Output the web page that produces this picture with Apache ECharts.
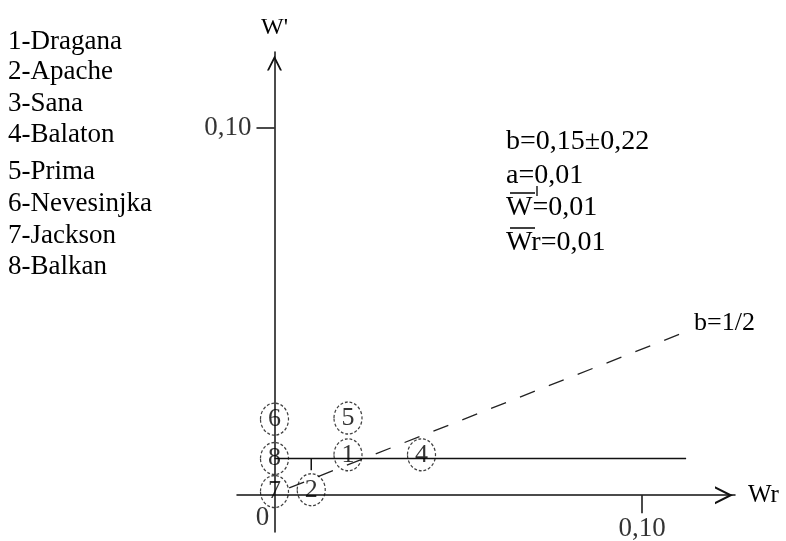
<!DOCTYPE html>
<html>
<head>
<meta charset="utf-8">
<script src="https://cdn.jsdelivr.net/npm/echarts@6/dist/echarts.min.js"></script>
<style>
  html, body { margin: 0; padding: 0; background: #fff; }
  #chart { width: 786px; height: 541px; }
</style>
</head>
<body>
<div id="chart"></div>
<script>
// Cultivar key shown top-left
const cultivarNames = ['1-Dragana', '2-Apache', '3-Sana', '4-Balaton', '5-Prima', '6-Nevesinjka', '7-Jackson', '8-Balkan'];

// Plotted cultivars (id shown inside each ring) with their Wr and W' values
const pointIds = ['1', '2', '4', '5', '6', '7', '8'];
const pointWr = [0.02, 0.01, 0.04, 0.02, 0.0, 0.0, 0.0];
const pointW = [0.011, 0.0015, 0.011, 0.021, 0.0207, 0.001, 0.01];

// Mean W' reference line and the mean Wr marker
const meanLineWr = [0.0, 0.112];
const meanLineW = [0.01, 0.01];
const meanMarkWr = [0.01, 0.01];
const meanMarkW = [0.01, 0.0068];

// b = 1/2 reference line
const refLineWr = [0.004, 0.112];
const refLineW = [0.002, 0.0445];

// Axis tick values and their labels
const tickValues = [0.1];
const tickLabels = ['0,10'];
const originLabel = '0';

// Regression summary
const statLines = ['b=0,15\u00B10,22', 'a=0,01', 'W=0,01', 'Wr=0,01'];

const FONT = 'Liberation Serif';
const INK = '#111';

const zip = (xs, ys) => xs.map((x, i) => [x, ys[i]]);

const chart = echarts.init(document.getElementById('chart'), null, { renderer: 'canvas' });

const chevron = 'path://M5,0 L10,10 L8.7,10 L5,2.6 L1.3,10 L0,10 Z';
const ellipse = 'path://M0,16 A14,16 0 1,1 28,16 A14,16 0 1,1 0,16 Z';

const textStyle = size => ({ fontFamily: FONT, fontSize: size, color: '#000' });

// Tick labels anchored to data positions on each axis
const tickLabelData = [];
tickValues.forEach((v, i) => {
  tickLabelData.push({
    value: [v, 0],
    label: { show: true, formatter: tickLabels[i], position: 'bottom', distance: 19, ...textStyle(27) }
  });
  tickLabelData.push({
    value: [0, v],
    label: { show: true, formatter: tickLabels[i], position: 'left', distance: 22, ...textStyle(27) }
  });
});
tickLabelData.push({
  value: [0, 0],
  label: { show: true, formatter: originLabel, position: 'bottom', distance: 8, offset: [-12, 0], ...textStyle(27) }
});

const option = {
  animation: false,
  backgroundColor: '#fff',
  grid: { left: 237, right: 51, top: 52, bottom: 9, containLabel: false, outerBoundsMode: 'none' },
  xAxis: {
    type: 'value',
    min: -0.0102,
    max: 0.1253,
    name: 'Wr',
    nameLocation: 'end',
    nameGap: 13,
    nameTextStyle: { ...textStyle(25), verticalAlign: 'middle' },
    axisLine: {
      onZero: true,
      lineStyle: { color: INK, width: 1.5 },
      symbol: ['none', chevron],
      symbolSize: [18, 22],
      symbolOffset: [0, -11]
    },
    axisTick: { show: true, customValues: tickValues, length: 18, lineStyle: { color: INK, width: 1.5 } },
    axisLabel: { show: false },
    splitLine: { show: false }
  },
  yAxis: {
    type: 'value',
    min: -0.0100,
    max: 0.1206,
    name: "W'",
    nameLocation: 'end',
    nameGap: 12,
    nameTextStyle: { ...textStyle(24), align: 'center' },
    axisLine: {
      onZero: true,
      lineStyle: { color: INK, width: 1.5 },
      symbol: ['none', chevron],
      symbolSize: [15, 22],
      symbolOffset: [0, -11]
    },
    axisTick: { show: true, customValues: tickValues, length: 18, lineStyle: { color: INK, width: 1.5 } },
    axisLabel: { show: false },
    splitLine: { show: false }
  },
  series: [
    {
      name: 'mean W',
      type: 'line',
      data: zip(meanLineWr, meanLineW),
      showSymbol: false,
      lineStyle: { color: INK, width: 1.5 },
      z: 2
    },
    {
      name: 'mean Wr',
      type: 'line',
      data: zip(meanMarkWr, meanMarkW),
      showSymbol: false,
      lineStyle: { color: INK, width: 1.5 },
      z: 2
    },
    {
      name: 'b=1/2',
      type: 'line',
      data: zip(refLineWr, refLineW),
      showSymbol: false,
      lineStyle: { color: '#222', width: 1.3, type: [16, 15] },
      endLabel: {
        show: true,
        formatter: 'b=1/2',
        ...textStyle(26),
        distance: 8,
        offset: [0, -9]
      },
      z: 2
    },
    {
      name: 'axis labels',
      type: 'scatter',
      data: tickLabelData,
      symbol: 'circle',
      symbolSize: 2,
      itemStyle: { color: 'rgba(0,0,0,0)' },
      silent: true,
      z: 1
    },
    {
      name: 'cultivars',
      type: 'scatter',
      data: pointIds.map((id, i) => ({ value: [pointWr[i], pointW[i]], name: id })),
      symbol: ellipse,
      symbolSize: [28, 32],
      symbolKeepAspect: false,
      itemStyle: { color: 'rgba(0,0,0,0)', borderColor: INK, borderWidth: 1.3, borderType: [3, 2] },
      label: {
        show: true,
        position: 'inside',
        formatter: p => p.name,
        ...textStyle(26)
      },
      z: 3
    }
  ]
};

chart.setOption(option);

// Text blocks and overlines placed around the plot
const legendY = [42, 72, 104, 135, 172, 204, 236, 267];
const statY = [142, 176, 208, 243];

const graphics = [];
cultivarNames.forEach((t, i) => {
  graphics.push({
    type: 'text', x: 8, y: legendY[i],
    style: { text: t, font: '27px "' + FONT + '"', fill: '#000', verticalAlign: 'middle', align: 'left' }
  });
});
statLines.forEach((t, i) => {
  graphics.push({
    type: 'text', x: 506, y: statY[i],
    style: { text: t, font: '28px "' + FONT + '"', fill: '#000', verticalAlign: 'middle', align: 'left' }
  });
});
// overlines over the two W symbols and the prime mark
graphics.push({ type: 'line', shape: { x1: 510, y1: 193, x2: 535, y2: 193 }, style: { stroke: '#000', lineWidth: 1.5 } });
graphics.push({ type: 'line', shape: { x1: 537, y1: 186, x2: 537, y2: 196 }, style: { stroke: '#000', lineWidth: 1.3 } });
graphics.push({ type: 'line', shape: { x1: 510, y1: 228, x2: 535, y2: 228 }, style: { stroke: '#000', lineWidth: 1.5 } });

chart.setOption({ graphic: { elements: graphics } });
</script>
</body>
</html>
